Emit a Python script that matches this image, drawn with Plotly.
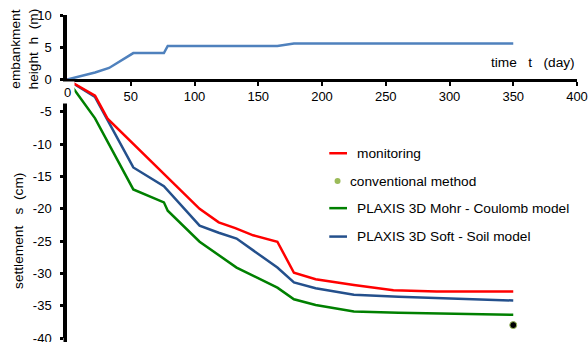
import plotly.graph_objects as go

# Embankment height (m) over time (day)
t_embank = [0, 22, 33, 52, 76, 79, 165, 178, 350]
h_embank = [0, 1.1, 1.8, 4.1, 4.1, 5.2, 5.2, 5.6, 5.6]

# Settlement (cm): monitoring record
t_monitor = [0, 22, 32, 104, 119, 132, 146, 165, 178, 195, 225, 256, 290, 350]
s_monitor = [0, -2.5, -6.1, -20.0, -22.1, -23.0, -24.1, -25.1, -29.9, -30.9, -31.8, -32.6, -32.8, -32.8]

# PLAXIS 3D Mohr - Coulomb model
t_mc = [0, 22, 52, 76, 79, 104, 133, 165, 178, 195, 225, 260, 350]
s_mc = [0, -6.0, -17.0, -19.0, -20.3, -25.1, -29.1, -32.2, -34.0, -34.9, -35.9, -36.1, -36.4]

# PLAXIS 3D Soft - Soil model
t_ss = [0, 22, 52, 76, 104, 119, 133, 165, 178, 195, 225, 260, 350]
s_ss = [0, -2.7, -13.6, -16.5, -22.6, -23.7, -24.6, -29.1, -31.4, -32.3, -33.3, -33.6, -34.2]

# Conventional method (final settlement)
t_conv = [350]
s_conv = [-38.0]

x_ticks = [0, 50, 100, 150, 200, 250, 300, 350, 400]
y_ticks = [10, 5, 0, -5, -10, -15, -20, -25, -30, -35, -40]

legend_names = ["monitoring", "conventional method",
                "PLAXIS 3D Mohr - Coulomb model", "PLAXIS 3D Soft - Soil model"]

RED = "#FF0000"
GREEN = "#008000"
NAVY = "#24508C"
SKY = "#4F81BD"
OLIVE = "#9BBB59"
FONT = "Arial, Liberation Sans, sans-serif"
TXT = 13.7

fig = go.Figure()
fig.add_trace(go.Scatter(x=t_embank, y=h_embank, mode="lines",
                         line=dict(color=SKY, width=2.5), showlegend=False))
fig.add_trace(go.Scatter(x=t_mc, y=s_mc, mode="lines",
                         line=dict(color=GREEN, width=2.5), showlegend=False))
fig.add_trace(go.Scatter(x=t_ss, y=s_ss, mode="lines",
                         line=dict(color=NAVY, width=2.5), showlegend=False))
fig.add_trace(go.Scatter(x=t_monitor, y=s_monitor, mode="lines",
                         line=dict(color=RED, width=2.5), showlegend=False))
fig.add_trace(go.Scatter(x=t_conv, y=s_conv, mode="markers",
                         marker=dict(color="black", size=7,
                                     line=dict(color=OLIVE, width=1)),
                         showlegend=False))

# Hand-placed legend (data coordinates)
leg_y = [-11.4, -15.7, -19.9, -24.3]
leg_colors = [RED, None, GREEN, NAVY]
shapes = []
annotations = []
for name, ly, col in zip(legend_names, leg_y, leg_colors):
    if col is None:
        shapes.append(dict(type="circle", xref="x", yref="y",
                           xsizemode="pixel", ysizemode="pixel",
                           xanchor=212.2, yanchor=ly,
                           x0=-3, x1=3, y0=-3, y1=3,
                           fillcolor=OLIVE, line=dict(width=0)))
        tx = 220.5
    else:
        shapes.append(dict(type="line", xref="x", yref="y",
                           x0=205.7, x1=219.6, y0=ly, y1=ly,
                           line=dict(color=col, width=2.5)))
        tx = 226.0
    annotations.append(dict(x=tx, y=ly, xref="x", yref="y", text=name,
                            showarrow=False, xanchor="left", yanchor="middle",
                            font=dict(size=TXT, color="black", family=FONT)))

# vertical axis continues a little below the bottom of the plot area
shapes.append(dict(type="line", xref="paper", yref="paper",
                   xsizemode="pixel", xanchor=0, x0=-1.75, x1=-1.75,
                   y0=-0.02, y1=0,
                   line=dict(color="black", width=3.5)))

# "0" label of the time axis, set over the vertical axis
annotations.append(dict(x=0, y=0, xref="x", yref="y", text="0", showarrow=False,
                        xanchor="center", yanchor="middle", yshift=-13,
                        bgcolor="white", borderpad=3,
                        font=dict(size=13, color="black", family=FONT)))

annotations.append(dict(x=400, y=2.6, xref="x", yref="y",
                        text="time   t   (day)", showarrow=False,
                        xanchor="right", yanchor="middle",
                        font=dict(size=TXT, color="black", family=FONT)))

annotations.append(dict(x=-0.084, y=4.7, xref="paper", yref="y",
                        text="embankment<br>height  h  (m)", showarrow=False,
                        textangle=-90, xanchor="center", yanchor="middle",
                        font=dict(size=TXT, color="black", family=FONT)))
annotations.append(dict(x=-0.095, y=-23.5, xref="paper", yref="y",
                        text="settlement   s  (cm)", showarrow=False,
                        textangle=-90, xanchor="center", yanchor="middle",
                        font=dict(size=TXT, color="black", family=FONT)))

fig.update_layout(
    width=588, height=342,
    margin=dict(l=67, r=11, t=15, b=4),
    paper_bgcolor="white", plot_bgcolor="white",
    font=dict(family=FONT, size=13, color="black"),
    showlegend=False,
    shapes=shapes,
    annotations=annotations,
    xaxis=dict(range=[0, 400], tickvals=x_ticks,
               ticktext=["" if v == 0 else str(v) for v in x_ticks],
               anchor="free", position=0.8, automargin=False,
               showline=True, linecolor="black", linewidth=3,
               ticks="outside", ticklen=4, tickwidth=2, tickcolor="black",
               showgrid=False, zeroline=False,
               tickfont=dict(size=13, family=FONT)),
    yaxis=dict(range=[-40, 10], tickvals=y_ticks,
               ticktext=[str(v) for v in y_ticks], automargin=False,
               showline=True, linecolor="black", linewidth=3.5,
               ticks="outside", ticklen=3, tickwidth=3, tickcolor="black",
               ticklabelstandoff=6, ticklabeloverflow="allow",
               showgrid=False, zeroline=False,
               tickfont=dict(size=13, family=FONT)),
)

fig.write_html("out.html")
